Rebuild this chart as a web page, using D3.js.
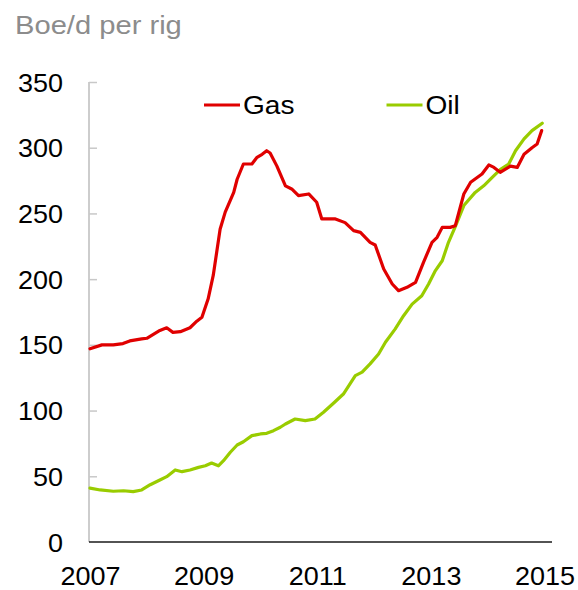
<!DOCTYPE html>
<html>
<head>
<meta charset="utf-8">
<script src="https://cdn.jsdelivr.net/npm/d3@7"></script>
<style>
  html, body { margin: 0; padding: 0; background: #fff; }
  svg { display: block; font-family: "Liberation Sans", Arial, sans-serif; }
</style>
</head>
<body>
<svg id="chart" width="578" height="590"></svg>
<script>
// ---- Data ----
const yTicks = [0, 50, 100, 150, 200, 250, 300, 350];
const xTicks = [2007, 2009, 2011, 2013, 2015];
const seriesNames = ["Gas", "Oil"];
const seriesColors = ["#e00000", "#99cc00"];

const gasDates = [2007.00, 2007.21, 2007.41, 2007.58, 2007.70, 2007.91, 2008.00, 2008.23, 2008.35, 2008.46,
  2008.59, 2008.76, 2008.88, 2008.97, 2009.08, 2009.17, 2009.23, 2009.29, 2009.38, 2009.53,
  2009.59, 2009.70, 2009.85, 2009.94, 2010.03, 2010.11, 2010.17, 2010.29, 2010.44, 2010.55,
  2010.67, 2010.85, 2010.99, 2011.08, 2011.32, 2011.49, 2011.64, 2011.76, 2011.93, 2012.02,
  2012.17, 2012.32, 2012.43, 2012.58, 2012.73, 2012.87, 2013.02, 2013.11, 2013.20, 2013.34,
  2013.43, 2013.58, 2013.70, 2013.90, 2014.02, 2014.11, 2014.22, 2014.40, 2014.52, 2014.64,
  2014.78, 2014.87, 2014.95];
const gasValues = [147, 150, 150, 151, 153, 154.5, 155, 161, 163, 159.5,
  160, 163, 168, 171, 185, 203, 220.5, 238, 251, 266,
  276, 287.6, 287.6, 292.7, 295, 297.7, 296, 286, 271, 268.6,
  263.5, 264.8, 258.5, 245.8, 245.8, 243, 236.9, 235.6, 228, 226,
  207.7, 196.3, 191.2, 193.8, 197.6, 212.8, 228, 231.8, 239.4, 239.4,
  240.7, 264.8, 273.7, 280, 286.9, 285, 281.3, 286, 285, 295,
  300, 302.8, 313];

const oilDates = [2007.00, 2007.18, 2007.41, 2007.59, 2007.76, 2007.91, 2008.06, 2008.23, 2008.35, 2008.50,
  2008.62, 2008.76, 2008.91, 2009.03, 2009.14, 2009.26, 2009.35, 2009.47, 2009.59, 2009.70,
  2009.85, 2010.00, 2010.11, 2010.23, 2010.35, 2010.44, 2010.61, 2010.79, 2010.96, 2011.11,
  2011.29, 2011.46, 2011.67, 2011.79, 2011.93, 2012.08, 2012.20, 2012.37, 2012.52, 2012.67,
  2012.84, 2012.96, 2013.08, 2013.20, 2013.31, 2013.43, 2013.58, 2013.78, 2013.93, 2014.08,
  2014.22, 2014.37, 2014.49, 2014.64, 2014.78, 2014.96];
const oilValues = [41, 39.6, 38.6, 39, 38.3, 39.6, 43.6, 47.2, 49.7, 54.8,
  53.5, 54.8, 56.8, 58, 60.1, 58, 61.9, 68.3, 73.8, 76.3,
  80.9, 82.2, 82.7, 84.7, 87.3, 89.8, 93.6, 92.3, 93.6, 98.7,
  105.8, 112.6, 126.6, 129.2, 135.5, 143, 152, 162, 172.2, 181,
  187.4, 196.3, 206.5, 214, 228, 240, 256, 266, 271, 277.5,
  283.3, 287.6, 297.7, 306.7, 313, 318.6];

const yTitle = "Boe/d per rig";

// ---- Layout ----
const svg = d3.select("#chart");
const TXS = 1.08; // horizontal text stretch of the reference typeface

const x = d3.scaleLinear().domain([2007, 2015]).range([90, 544.5]);
const y = d3.scaleLinear().domain([0, 350]).range([542, 82]);

// Title
svg.append("text")
  .attr("transform", "translate(15,34) scale(1.1,1)")
  .attr("font-size", 26.5)
  .attr("fill", "#8c8c8c")
  .text(yTitle);

// Y axis: gray line + right-side ticks
const yAxisTicks = d3.axisRight(y).tickValues(yTicks.filter(d => d > 0)).tickSize(8).tickFormat("");
const gy = svg.append("g").attr("transform", "translate(89,0)").call(yAxisTicks);
gy.select(".domain").remove();
gy.selectAll(".tick line").attr("stroke", "#c8c8c8").attr("stroke-width", 1.5);
svg.append("line")
  .attr("x1", 89).attr("x2", 89)
  .attr("y1", y(350)).attr("y2", y(0))
  .attr("stroke", "#c8c8c8").attr("stroke-width", 1.8);

// Y labels
const yLabels = d3.axisLeft(y).tickValues(yTicks).tickSize(0).tickFormat(d3.format("d"));
const gyl = svg.append("g").attr("transform", "translate(63,0)").call(yLabels);
gyl.select(".domain").remove();
gyl.selectAll(".tick text")
  .attr("x", 0).attr("dy", null).attr("y", 9)
  .attr("transform", `scale(${TXS},1)`)
  .attr("font-size", 25).attr("font-family", "Liberation Sans, Arial, sans-serif")
  .attr("fill", "#000").attr("text-anchor", "end");

// X axis
svg.append("line")
  .attr("x1", 89).attr("x2", 552)
  .attr("y1", y(0)).attr("y2", y(0))
  .attr("stroke", "#1a1a1a").attr("stroke-width", 1.6);
const xLabels = d3.axisBottom(x).tickValues(xTicks).tickSize(0).tickFormat(d3.format("d"));
const gx = svg.append("g").attr("transform", "translate(0,585)").call(xLabels);
gx.select(".domain").remove();
gx.selectAll(".tick text")
  .attr("y", 0).attr("dy", null)
  .attr("transform", `scale(${TXS},1)`)
  .attr("font-size", 25).attr("font-family", "Liberation Sans, Arial, sans-serif")
  .attr("fill", "#000").attr("text-anchor", "middle");

// Lines
const line = d3.line().x(d => x(d[0])).y(d => y(d[1])).curve(d3.curveLinear);
const gasData = d3.zip(gasDates, gasValues);
const oilData = d3.zip(oilDates, oilValues);

svg.append("path").datum(oilData)
  .attr("d", line).attr("fill", "none")
  .attr("stroke", seriesColors[1]).attr("stroke-width", 3.2)
  .attr("stroke-linejoin", "round").attr("stroke-linecap", "round");
svg.append("path").datum(gasData)
  .attr("d", line).attr("fill", "none")
  .attr("stroke", seriesColors[0]).attr("stroke-width", 3.2)
  .attr("stroke-linejoin", "round").attr("stroke-linecap", "round");

// Legend
const legendPos = [[204, 105], [386.5, 105]];
seriesNames.forEach((name, i) => {
  const [lx, ly] = legendPos[i];
  svg.append("line")
    .attr("x1", lx).attr("x2", lx + 36)
    .attr("y1", ly).attr("y2", ly)
    .attr("stroke", seriesColors[i]).attr("stroke-width", 3.2);
  svg.append("text")
    .attr("transform", `translate(${lx + 39},${ly + 9}) scale(${TXS},1)`)
    .attr("font-size", 26)
    .attr("fill", "#000")
    .text(name);
});
</script>
</body>
</html>
